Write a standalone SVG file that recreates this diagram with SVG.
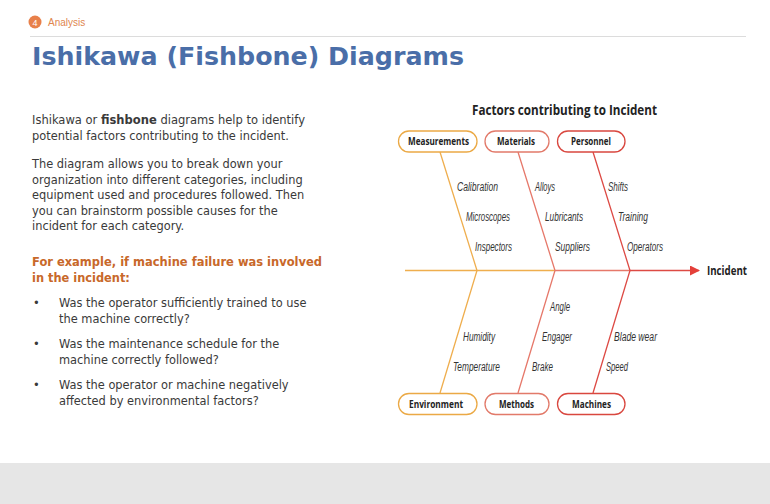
<svg xmlns="http://www.w3.org/2000/svg" width="770" height="504" viewBox="0 0 770 504">
<defs>
<style>
.body{font-family:"DejaVu Sans",Verdana,sans-serif;font-size:11.4px;fill:#3a3a3a}
.em{font-family:"DejaVu Sans",Verdana,sans-serif;font-size:11.4px;font-weight:bold;fill:#c8682a}
.pill{fill:#fff;stroke-width:1.3}
.plabel{font-family:"Open Sans","Liberation Sans",sans-serif;font-size:10px;font-weight:bold;fill:#222;text-anchor:middle}
.cause{font-family:"Liberation Sans",Arial,sans-serif;font-size:12px;font-style:italic;fill:#333}
.bone{fill:none;stroke-width:1.3}
.c1{stroke:#efae4e}
.c2{stroke:#e6786a}
.c3{stroke:#dd4a44}
</style>
<marker id="arr" markerWidth="10" markerHeight="10" refX="9" refY="5" orient="auto" markerUnits="userSpaceOnUse">
<path d="M0,0 L10,5 L0,10 Z" fill="#e4403a"/>
</marker>
</defs>
<rect x="0" y="0" width="770" height="504" fill="#fff"/>
<rect x="0" y="463" width="770" height="41" fill="#e6e6e6"/>

<g id="header">
<circle cx="35" cy="22" r="6.5" fill="#e8804a"/>
<text x="35" y="25.5" font-family="Liberation Sans,Arial,sans-serif" font-size="9" fill="#fff" text-anchor="middle">4</text>
<text x="48" y="26" font-family="Liberation Sans,Arial,sans-serif" font-size="10" fill="#e0864e">Analysis</text>
<line x1="30" y1="36.5" x2="746" y2="36.5" stroke="#dcdcdc" stroke-width="1"/>
<text x="32" y="65" font-family="DejaVu Sans,Verdana,sans-serif" font-size="24" font-weight="bold" fill="#4a6ea8" textLength="432" lengthAdjust="spacingAndGlyphs">Ishikawa (Fishbone) Diagrams</text>
</g>

<g id="text">
<text class="body" x="32" y="124" textLength="273" lengthAdjust="spacingAndGlyphs">Ishikawa or <tspan font-weight="bold">fishbone</tspan> diagrams help to identify</text>
<text class="body" x="32" y="139.5">potential factors contributing to the incident.</text>
<text class="body" x="32" y="168">The diagram allows you to break down your</text>
<text class="body" x="32" y="183.5">organization into different categories, including</text>
<text class="body" x="32" y="199">equipment used and procedures followed. Then</text>
<text class="body" x="32" y="214.5">you can brainstorm possible causes for the</text>
<text class="body" x="32" y="230">incident for each category.</text>
<text class="em" x="32" y="266" textLength="290" lengthAdjust="spacingAndGlyphs">For example, if machine failure was involved</text>
<text class="em" x="32" y="281.5">in the incident:</text>
<text class="body" x="33" y="307">•</text>
<text class="body" x="59" y="307">Was the operator sufficiently trained to use</text>
<text class="body" x="59" y="323">the machine correctly?</text>
<text class="body" x="33" y="348">•</text>
<text class="body" x="59" y="348">Was the maintenance schedule for the</text>
<text class="body" x="59" y="364">machine correctly followed?</text>
<text class="body" x="33" y="389">•</text>
<text class="body" x="59" y="389">Was the operator or machine negatively</text>
<text class="body" x="59" y="405">affected by environmental factors?</text>
</g>

<text x="564.5" y="115" font-family="Open Sans,Liberation Sans,sans-serif" font-size="14" font-weight="bold" fill="#222" text-anchor="middle" textLength="185" lengthAdjust="spacingAndGlyphs">Factors contributing to Incident</text>

<g id="connectors">
<line class="bone c1" x1="405" y1="270.5" x2="555" y2="270.5"/>
<line class="bone c2" x1="555" y1="270.5" x2="630" y2="270.5"/>
<line class="bone c3" x1="630" y1="270.5" x2="699" y2="270.5" marker-end="url(#arr)"/>
<polyline class="bone c1" points="440,152 477,270.5 440,393"/>
<polyline class="bone c2" points="518,152 555,270.5 518,393"/>
<polyline class="bone c3" points="593,152 630,270.5 593,393"/>
</g>

<g id="incident">
<text x="707" y="275" font-family="Open Sans,Liberation Sans,sans-serif" font-size="11.5" font-weight="bold" fill="#222" textLength="40" lengthAdjust="spacingAndGlyphs">Incident</text>
</g>

<g id="measurements">
<rect class="pill" x="398.5" y="131" width="78.5" height="21" rx="10.5" stroke="#eba945"/>
<text class="plabel" x="438.5" y="145" textLength="61" lengthAdjust="spacingAndGlyphs">Measurements</text>
</g>
<g id="materials">
<rect class="pill" x="485" y="131" width="64" height="21" rx="10.5" stroke="#e27a6a"/>
<text class="plabel" x="516" y="145" textLength="38" lengthAdjust="spacingAndGlyphs">Materials</text>
</g>
<g id="personnel">
<rect class="pill" x="557.5" y="131" width="67.5" height="21" rx="10.5" stroke="#d9473f"/>
<text class="plabel" x="591" y="145" textLength="40" lengthAdjust="spacingAndGlyphs">Personnel</text>
</g>
<g id="environment">
<rect class="pill" x="398.5" y="393.5" width="78.5" height="21" rx="10.5" stroke="#eba945"/>
<text class="plabel" x="436" y="407.5" textLength="54" lengthAdjust="spacingAndGlyphs">Environment</text>
</g>
<g id="methods">
<rect class="pill" x="485" y="393.5" width="64" height="21" rx="10.5" stroke="#e27a6a"/>
<text class="plabel" x="516.5" y="407.5" textLength="35" lengthAdjust="spacingAndGlyphs">Methods</text>
</g>
<g id="machines">
<rect class="pill" x="557.5" y="393.5" width="67.5" height="21" rx="10.5" stroke="#d9473f"/>
<text class="plabel" x="591.5" y="407.5" textLength="39" lengthAdjust="spacingAndGlyphs">Machines</text>
</g>

<g id="causes">
<text class="cause" x="457" y="191" textLength="41" lengthAdjust="spacingAndGlyphs">Calibration</text>
<text class="cause" x="466" y="221" textLength="44" lengthAdjust="spacingAndGlyphs">Microscopes</text>
<text class="cause" x="475" y="251" textLength="37" lengthAdjust="spacingAndGlyphs">Inspectors</text>
<text class="cause" x="535" y="191" textLength="20" lengthAdjust="spacingAndGlyphs">Alloys</text>
<text class="cause" x="545" y="221" textLength="38" lengthAdjust="spacingAndGlyphs">Lubricants</text>
<text class="cause" x="555" y="251" textLength="35" lengthAdjust="spacingAndGlyphs">Suppliers</text>
<text class="cause" x="608" y="191" textLength="20" lengthAdjust="spacingAndGlyphs">Shifts</text>
<text class="cause" x="618" y="221" textLength="30" lengthAdjust="spacingAndGlyphs">Training</text>
<text class="cause" x="627" y="251" textLength="36" lengthAdjust="spacingAndGlyphs">Operators</text>
<text class="cause" x="550" y="311" textLength="20" lengthAdjust="spacingAndGlyphs">Angle</text>
<text class="cause" x="463" y="341" textLength="32" lengthAdjust="spacingAndGlyphs">Humidity</text>
<text class="cause" x="542" y="341" textLength="30" lengthAdjust="spacingAndGlyphs">Engager</text>
<text class="cause" x="614" y="341" textLength="43" lengthAdjust="spacingAndGlyphs">Blade wear</text>
<text class="cause" x="453" y="371" textLength="47" lengthAdjust="spacingAndGlyphs">Temperature</text>
<text class="cause" x="532" y="371" textLength="21" lengthAdjust="spacingAndGlyphs">Brake</text>
<text class="cause" x="606" y="371" textLength="22" lengthAdjust="spacingAndGlyphs">Speed</text>
</g>
</svg>
